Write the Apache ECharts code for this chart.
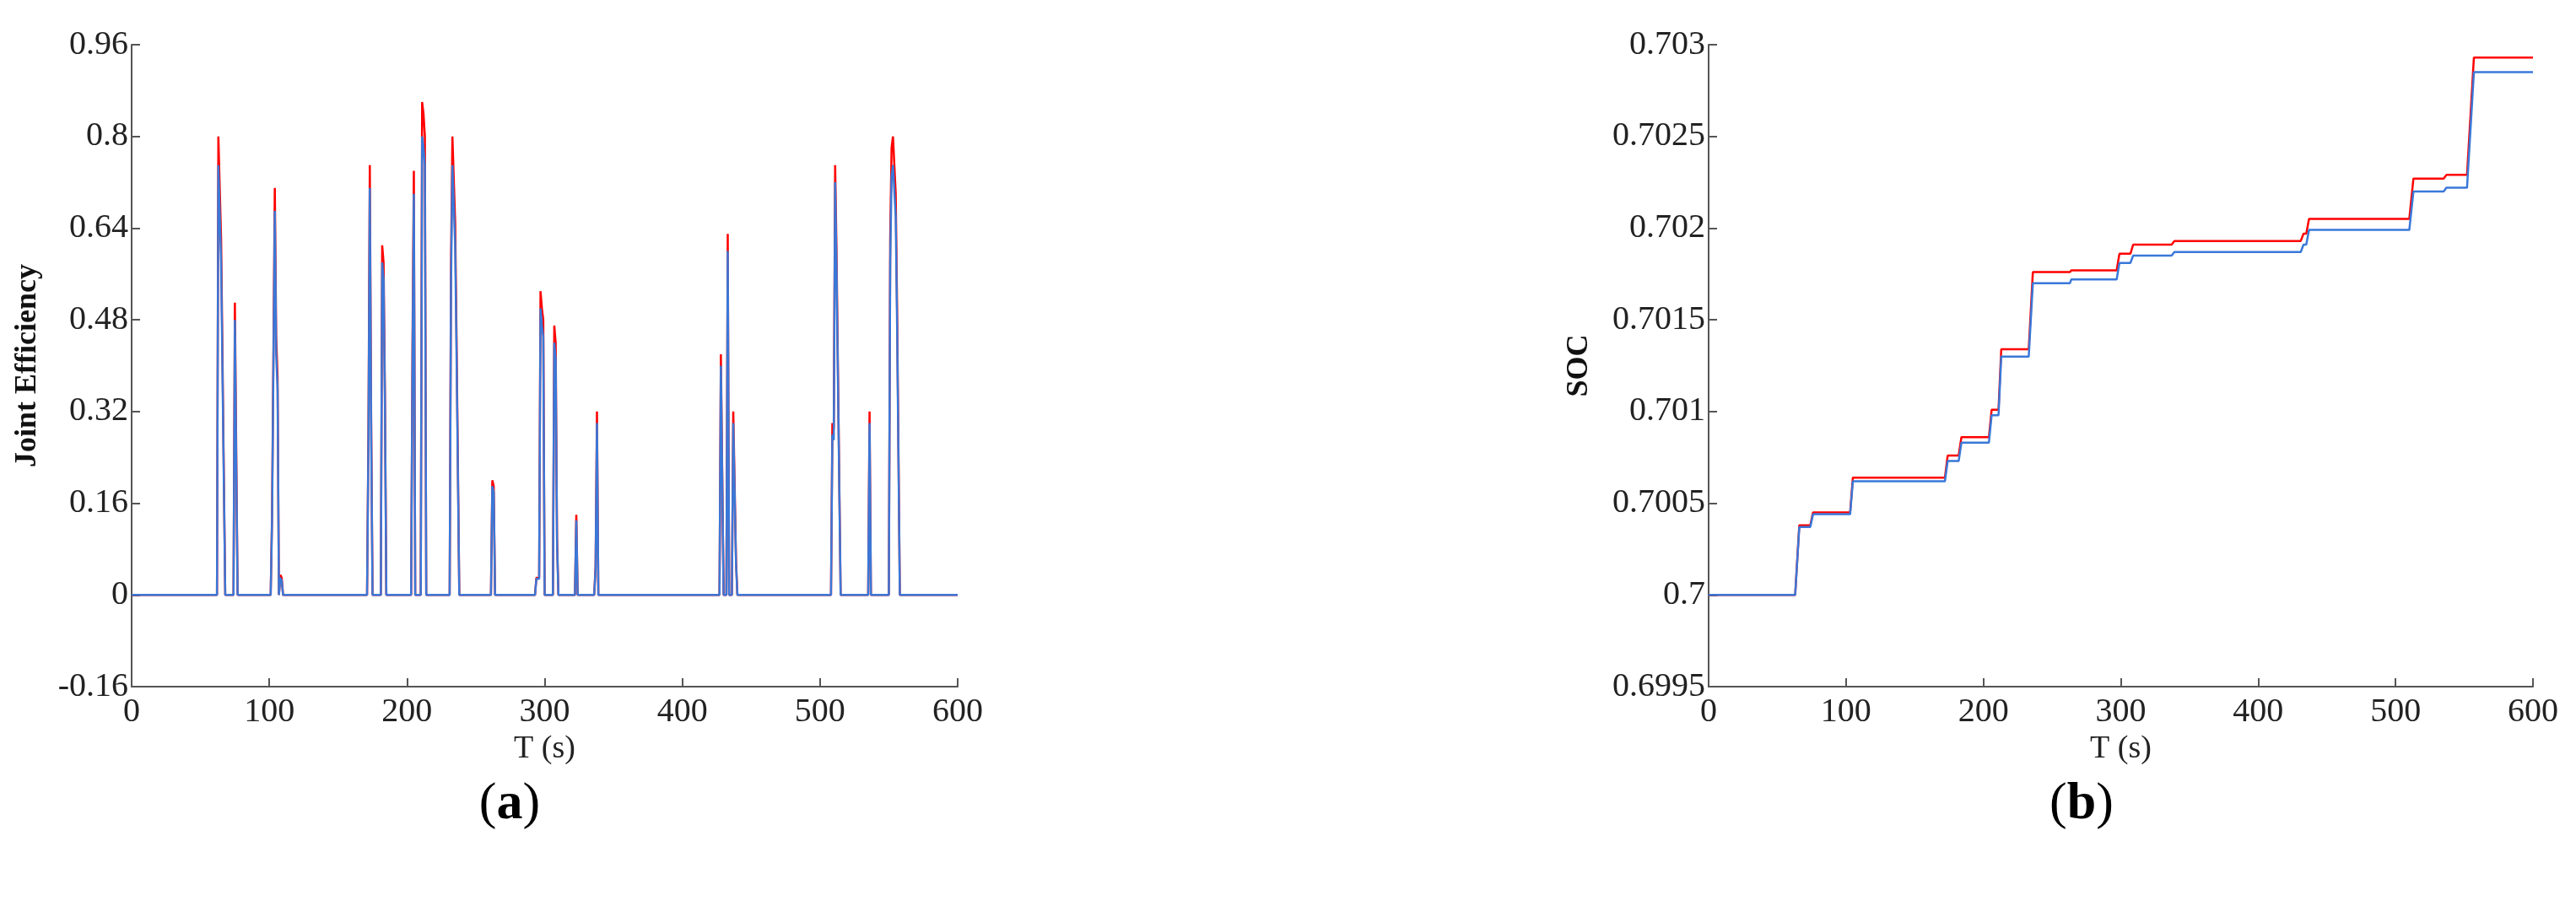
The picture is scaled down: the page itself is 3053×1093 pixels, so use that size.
<!DOCTYPE html>
<html><head><meta charset="utf-8">
<script src="https://cdn.jsdelivr.net/npm/echarts@6/dist/echarts.min.js"></script>
<style>html,body{margin:0;background:#fff}#c{width:3053px;height:1093px}</style>
</head><body><div id="c"></div>
<script>
// (a) joint efficiency pulses
const effT    = [0, 62, 63, 65, 68, 74, 75, 76, 77, 101, 102, 103, 104, 105, 106, 107, 108, 109, 110, 171, 172, 173, 174, 175, 181, 182, 183, 184, 185, 203, 204, 205, 206, 210, 211, 212, 213, 214, 231, 232, 233, 235, 236, 238, 261, 262, 263, 264, 293, 294, 296, 297, 298, 299, 300, 306, 307, 308, 309, 310, 322, 323, 324, 336, 337, 338, 339, 427, 428, 429, 430, 432, 433, 434, 436, 437, 438, 439, 440, 508, 509, 510, 511, 512, 515, 535, 536, 537, 550, 551, 552, 553, 555, 556, 558, 600];
const effRed  = [0, 0, 0.80, 0.62, 0, 0, 0.51, 0.25, 0, 0, 0.14, 0.14, 0.71, 0.45, 0.38, 0, 0.035, 0.03, 0, 0, 0.28, 0.75, 0.30, 0, 0, 0.61, 0.58, 0.35, 0, 0, 0.43, 0.74, 0, 0, 0.86, 0.84, 0.80, 0, 0, 0.58, 0.80, 0.65, 0.45, 0, 0, 0.20, 0.19, 0, 0, 0.03, 0.03, 0.53, 0.50, 0.48, 0, 0, 0.47, 0.44, 0.10, 0, 0, 0.14, 0, 0, 0.05, 0.32, 0, 0, 0.42, 0.42, 0, 0, 0.63, 0, 0, 0.32, 0.32, 0.06, 0, 0, 0.30, 0.29, 0.75, 0.60, 0, 0, 0.32, 0, 0, 0.62, 0.78, 0.80, 0.70, 0.50, 0, 0];
const effBlue = [0, 0, 0.75, 0.58, 0, 0, 0.48, 0.22, 0, 0, 0.13, 0.13, 0.67, 0.42, 0.36, 0, 0.03, 0.025, 0, 0, 0.26, 0.71, 0.28, 0, 0, 0.58, 0.55, 0.33, 0, 0, 0.40, 0.70, 0, 0, 0.80, 0.78, 0.75, 0, 0, 0.54, 0.75, 0.61, 0.42, 0, 0, 0.19, 0.18, 0, 0, 0.028, 0.028, 0.50, 0.47, 0.45, 0, 0, 0.44, 0.41, 0.09, 0, 0, 0.13, 0, 0, 0.045, 0.30, 0, 0, 0.40, 0.40, 0, 0, 0.60, 0, 0, 0.30, 0.30, 0.055, 0, 0, 0.28, 0.27, 0.72, 0.57, 0, 0, 0.30, 0, 0, 0.58, 0.73, 0.75, 0.66, 0.47, 0, 0];

// (b) state of charge steps
const socT    = [0, 63, 66, 74, 76, 103, 105, 172, 174, 182, 184, 204, 206, 211, 213, 233, 236, 263, 264, 297, 299, 307, 309, 337, 339, 431, 433, 435, 437, 510, 513, 535, 537, 552, 557, 600];
const socRed  = [0.7, 0.7, 0.70038, 0.70038, 0.70045, 0.70045, 0.70064, 0.70064, 0.70076, 0.70076, 0.70086, 0.70086, 0.70101, 0.70101, 0.70134, 0.70134, 0.70176, 0.70176, 0.70177, 0.70177, 0.70186, 0.70186, 0.70191, 0.70191, 0.70193, 0.70193, 0.70197, 0.70197, 0.70205, 0.70205, 0.70227, 0.70227, 0.70229, 0.70229, 0.70293, 0.70293];
const socBlue = [0.7, 0.7, 0.70037, 0.70037, 0.70044, 0.70044, 0.70062, 0.70062, 0.70073, 0.70073, 0.70083, 0.70083, 0.70098, 0.70098, 0.7013, 0.7013, 0.7017, 0.7017, 0.70172, 0.70172, 0.70181, 0.70181, 0.70185, 0.70185, 0.70187, 0.70187, 0.70191, 0.70191, 0.70199, 0.70199, 0.7022, 0.7022, 0.70222, 0.70222, 0.70285, 0.70285];

const RED = '#ff0000', BLUE = '#3a78d8', AX = '#555';
const font = 'Liberation Serif';
const zip = (xs, ys) => xs.map((x, i) => [x, ys[i]]);

function xAxis(idx) {
  return {
    gridIndex: idx, type: 'value', min: 0, max: 600, interval: 100,
    name: 'T (s)', nameLocation: 'middle', nameGap: 52,
    nameTextStyle: { fontFamily: font, fontSize: 38, color: '#222' },
    axisLine: { onZero: false, lineStyle: { color: AX, width: 2 } },
    axisTick: { inside: true, length: 10, lineStyle: { color: AX, width: 2 } },
    axisLabel: { fontFamily: font, fontSize: 40, color: '#222', margin: 10 },
    splitLine: { show: false }
  };
}
function yAxis(idx, min, max, interval, name, fmt) {
  return {
    gridIndex: idx, type: 'value', min, max, interval,
    name, nameLocation: 'middle', nameGap: idx ? 135 : 105,
    nameTextStyle: { fontFamily: font, fontSize: 36, fontWeight: 'bold', color: '#111' },
    axisLine: { onZero: false, lineStyle: { color: AX, width: 2 } },
    axisTick: { inside: true, length: 10, lineStyle: { color: AX, width: 2 } },
    axisLabel: { fontFamily: font, fontSize: 40, color: '#222', margin: 4, formatter: fmt },
    splitLine: { show: false }
  };
}
const line = (g, data, color, w) => ({
  type: 'line', xAxisIndex: g, yAxisIndex: g, data, showSymbol: false,
  lineStyle: { color, width: w }, animation: false
});

const chart = echarts.init(document.getElementById('c'));
chart.setOption({
  backgroundColor: '#fff',
  grid: [
    { left: 156, top: 53, width: 979, height: 761 },
    { left: 2025, top: 53, width: 977, height: 761 }
  ],
  xAxis: [xAxis(0), xAxis(1)],
  yAxis: [
    yAxis(0, -0.16, 0.96, 0.16, 'Joint Efficiency', v => String(+v.toFixed(2))),
    yAxis(1, 0.6995, 0.703, 0.0005, 'SOC', v => String(+v.toFixed(4)))
  ],
  series: [
    line(0, zip(effT, effRed), RED, 2.5),
    line(0, zip(effT, effBlue), BLUE, 2.5),
    line(1, zip(socT, socRed), RED, 2.5),
    line(1, zip(socT, socBlue), BLUE, 2.5)
  ],
  graphic: [
    { type: 'text', x: 604, y: 954, style: { rich: { b: { fontFamily: font, fontSize: 62, fontWeight: 'bold' }, n: { fontFamily: font, fontSize: 62 } }, text: '{n|(}{b|a}{n|)}', fill: '#000', align: 'center', verticalAlign: 'middle' } },
    { type: 'text', x: 2467, y: 954, style: { rich: { b: { fontFamily: font, fontSize: 62, fontWeight: 'bold' }, n: { fontFamily: font, fontSize: 62 } }, text: '{n|(}{b|b}{n|)}', fill: '#000', align: 'center', verticalAlign: 'middle' } }
  ]
});
</script></body></html>
